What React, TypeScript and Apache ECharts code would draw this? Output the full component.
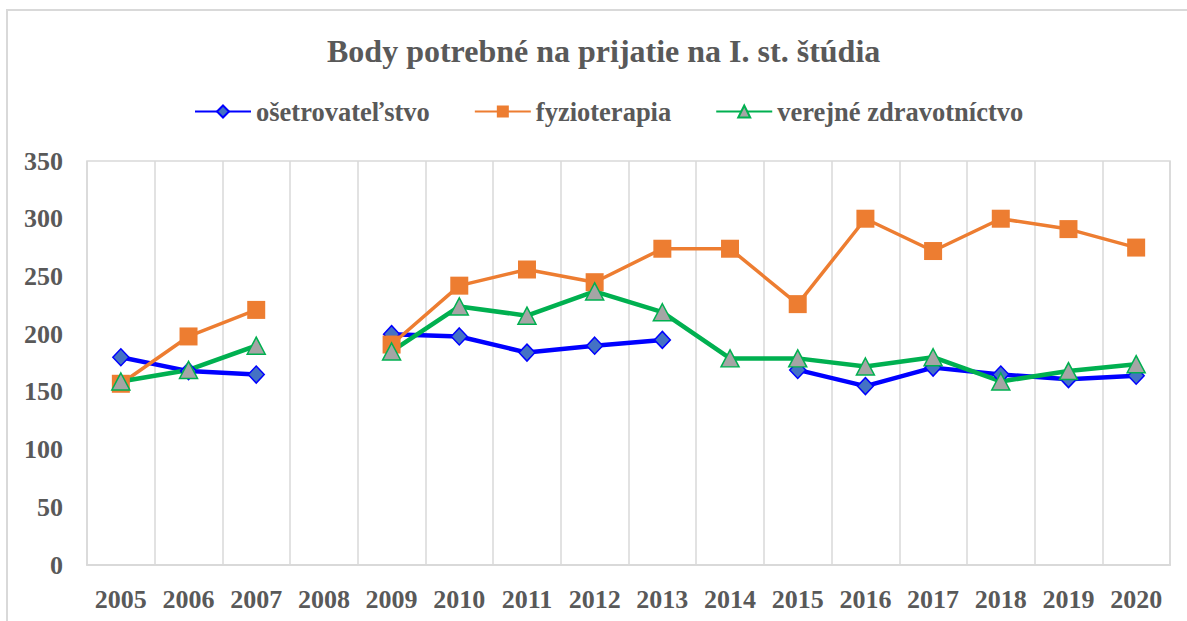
import React, { useEffect, useRef } from "react";
import * as echarts from "echarts";

const years = ["2005","2006","2007","2008","2009","2010","2011","2012","2013","2014","2015","2016","2017","2018","2019","2020"];
const osetrovatelstvo = [180, 168, 165, null, 200, 198, 184, 190, 195, null, 169, 155, 171, 165, 161, 164];
const fyzioterapia = [157, 198, 221, null, 191, 242, 256, 245, 274, 274, 226, 300, 272, 300, 291, 275];
const verejneZdravotnictvo = [159, 169, 190, null, 185, 224, 216, 237, 219, 179, 179, 172, 180, 159, 168, 174];
const yTicks = { min: 0, max: 350, interval: 50 };

const FONT = "'Liberation Serif', 'Times New Roman', serif";
const TXT = "#595959";

export default function App() {
  const ref = useRef<HTMLDivElement>(null);
  useEffect(() => {
    if (!ref.current) return;
    const chart = echarts.init(ref.current, undefined, { renderer: "svg" });
    chart.setOption({
      animation: false,
      backgroundColor: "#ffffff",
      title: {
        text: "Body potrebné na prijatie na I. st. štúdia",
        left: 322,
        top: 30,
        textStyle: { fontFamily: FONT, fontWeight: "bold", fontSize: 32, color: TXT },
      },
      legend: {
        top: 93,
        left: 189,
        itemWidth: 56,
        itemHeight: 15,
        itemGap: 44,
        textStyle: { fontFamily: FONT, fontWeight: "bold", fontSize: 26.5, color: TXT },
      },
      graphic: [
        {
          type: "rect",
          shape: { x: 7, y: 10, width: 1300, height: 800 },
          style: { fill: "none", stroke: "#d9d9d9", lineWidth: 2 },
          silent: true,
        },
      ],
      grid: {
        left: 87,
        right: 17,
        top: 161,
        bottom: 56,
        show: true,
        borderColor: "#d9d9d9",
        borderWidth: 1.5,
        backgroundColor: "transparent",
      },
      xAxis: {
        type: "category",
        data: years,
        boundaryGap: true,
        axisTick: { show: false },
        axisLine: { lineStyle: { color: "#d9d9d9", width: 2 } },
        splitLine: { show: true, interval: 0, lineStyle: { color: "#d9d9d9", width: 1.5 } },
        axisLabel: { interval: 0, margin: 21, fontFamily: FONT, fontWeight: "bold", fontSize: 26, color: TXT },
      },
      yAxis: {
        type: "value",
        min: yTicks.min,
        max: yTicks.max,
        interval: yTicks.interval,
        axisLine: { show: false },
        axisTick: { show: false },
        splitLine: { show: false },
        axisLabel: { margin: 24, fontFamily: FONT, fontWeight: "bold", fontSize: 26, color: TXT },
      },
      series: [
        {
          name: "ošetrovateľstvo",
          type: "line",
          data: osetrovatelstvo,
          connectNulls: false,
          symbol: "diamond",
          symbolSize: [16, 17],
          lineStyle: { color: "#0000FF", width: 4.5 },
          itemStyle: { color: "#4472C4", borderColor: "#0000FF", borderWidth: 1.5 },
        },
        {
          name: "fyzioterapia",
          type: "line",
          data: fyzioterapia,
          connectNulls: false,
          symbol: "rect",
          symbolSize: 18,
          lineStyle: { color: "#ED7D31", width: 3.5 },
          itemStyle: { color: "#ED7D31", borderColor: "#ED7D31", borderWidth: 0 },
        },
        {
          name: "verejné zdravotníctvo",
          type: "line",
          data: verejneZdravotnictvo,
          connectNulls: false,
          symbol: "triangle",
          symbolSize: [18, 17],
          lineStyle: { color: "#00B050", width: 4.5 },
          itemStyle: { color: "#A5A5A5", borderColor: "#00B050", borderWidth: 1.5 },
        },
      ],
    });
    return () => chart.dispose();
  }, []);
  return <div ref={ref} style={{ position: "absolute", left: 0, top: 0, width: 1187, height: 621 }} />;
}
